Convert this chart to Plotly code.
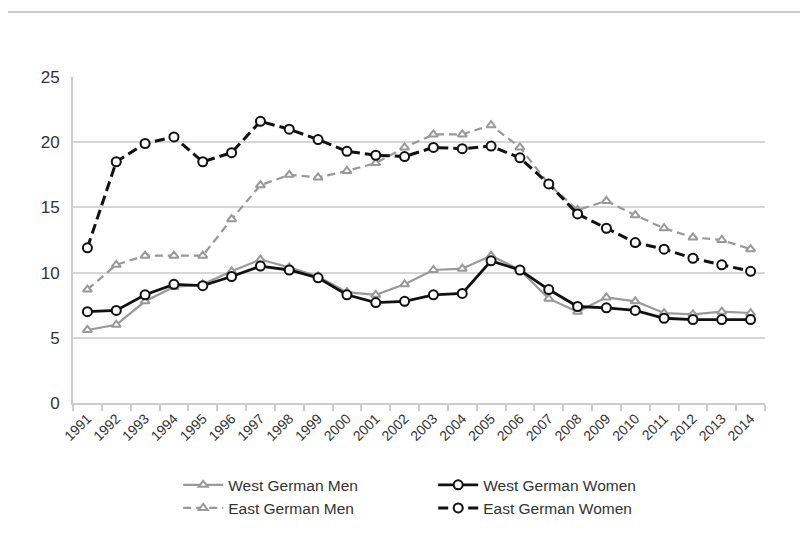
import plotly.graph_objects as go

years = [str(y) for y in range(1991, 2015)]
west_men = [5.6, 6.0, 7.8, 8.9, 9.1, 10.1, 11.0, 10.4, 9.7, 8.5, 8.3, 9.1, 10.2, 10.3, 11.3, 10.2, 8.0, 7.0, 8.1, 7.8, 6.9, 6.8, 7.0, 6.9]
west_women = [7.0, 7.1, 8.3, 9.1, 9.0, 9.7, 10.5, 10.2, 9.6, 8.3, 7.7, 7.8, 8.3, 8.4, 10.9, 10.2, 8.7, 7.4, 7.3, 7.1, 6.5, 6.4, 6.4, 6.4]
east_men = [8.7, 10.6, 11.3, 11.3, 11.3, 14.1, 16.7, 17.5, 17.3, 17.8, 18.4, 19.6, 20.6, 20.6, 21.3, 19.6, 16.8, 14.8, 15.5, 14.4, 13.4, 12.7, 12.5, 11.8]
east_women = [11.9, 18.5, 19.9, 20.4, 18.5, 19.2, 21.6, 21.0, 20.2, 19.3, 19.0, 18.9, 19.6, 19.5, 19.7, 18.8, 16.8, 14.5, 13.4, 12.3, 11.8, 11.1, 10.6, 10.1]
y_ticks = [0, 5, 10, 15, 20, 25]

W, H = 800, 536
ML, MR, MT, MB = 65, 43, 69, 141
plot_h = H - MT - MB

fig = go.Figure()
series = [
    ("West German Men", west_men, "#999999", "solid", "triangle-up", 2.2),
    ("West German Women", west_women, "#111111", "solid", "circle", 2.8),
    ("East German Men", east_men, "#999999", "8px,5px", "triangle-up", 2.2),
    ("East German Women", east_women, "#111111", "10px,5px", "circle", 3.0),
]
for name, vals, color, dash, sym, w in series:
    fig.add_trace(go.Scatter(
        x=years, y=vals, name=name, mode="lines+markers",
        line=dict(color=color, width=w, dash=dash),
        marker=dict(symbol=sym, size=9 if sym == "circle" else 8, color="white",
                    line=dict(color=color, width=2)),
    ))

fig.update_layout(
    width=W, height=H,
    margin=dict(l=ML, r=MR, t=MT, b=MB),
    paper_bgcolor="white", plot_bgcolor="white",
    font=dict(family="Liberation Sans, Arial, sans-serif", color="#404040"),
    showlegend=True,
    legend=dict(orientation="h", x=0.152, y=-0.2, xanchor="left", yanchor="top",
                entrywidth=200, entrywidthmode="pixels",
                font=dict(size=15.5, color="#333333"), tracegroupgap=0,
                itemwidth=40),
    xaxis=dict(type="category", range=[-0.5, 23.5], tickson="boundaries", ticks="outside", ticklen=6,
               tickcolor="#cccccc", tickwidth=2, showline=True, linecolor="#cccccc", linewidth=2,
               showgrid=False, tickangle=-45, tickfont=dict(size=14, color="#333333")),
    yaxis=dict(range=[0, 25], tickvals=y_ticks, showgrid=True, gridcolor="#d6d6d6",
               gridwidth=2, showline=True, linecolor="#cccccc", linewidth=2,
               zeroline=False, tickfont=dict(size=17, color="#333333"), ticks="",
               ticklabelstandoff=8),
    shapes=[dict(type="line", xref="paper", yref="paper", x0=-0.2, x1=1.2,
                 y0=(H - MB - 4) / plot_h, y1=(H - MB - 4) / plot_h,
                 line=dict(color="#cccccc", width=2))],
)
fig.write_html("out.html")
